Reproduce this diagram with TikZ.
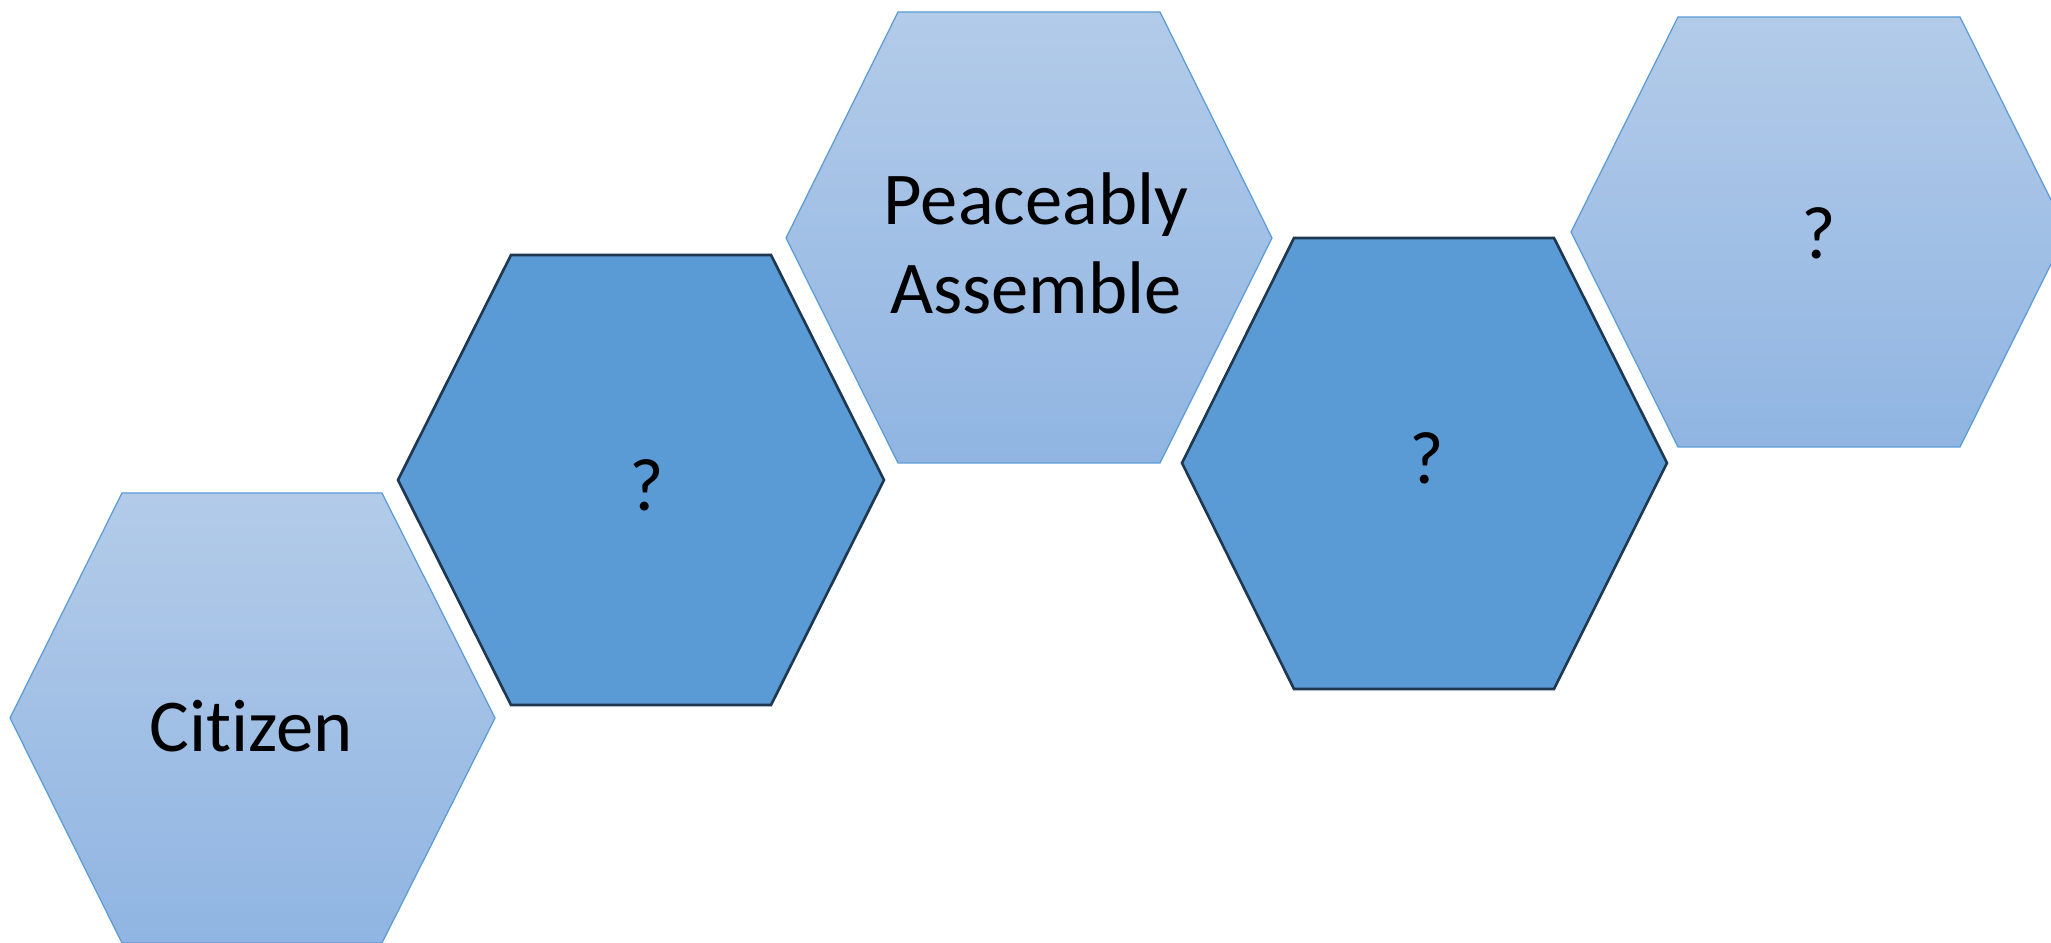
\documentclass[tikz,border=0pt]{standalone}
\usepackage{fontspec}
\setmainfont{Carlito}[Ligatures={NoCommon,NoRequired,NoContextual}]
\definecolor{lighttop}{HTML}{B3CBE9}
\definecolor{lightbot}{HTML}{90B5E2}
\definecolor{lightedge}{HTML}{5B9BD5}
\definecolor{darkfill}{HTML}{5B9BD5}
\definecolor{darkedge}{HTML}{1F3852}
\begin{document}
\begin{tikzpicture}[x=0.01cm,y=-0.01cm,
  lighthex/.style={draw=lightedge,line width=0.35pt,top color=lighttop,bottom color=lightbot,line join=miter},
  darkhex/.style={draw=darkedge,fill=darkfill,line width=0.75pt,line join=miter},
  hextext/.style={inner sep=0pt,anchor=south,font=\fontsize{21.2pt}{25.3pt}\selectfont,align=center,text=black}]
\useasboundingbox (0,0) rectangle (2051,943);
\clip (0,0) rectangle (2051,943);
% hexagons
\path[lighthex] (10,718) -- (122,493) -- (382,493) -- (495,718) -- (382,943) -- (122,943) -- cycle;
\path[darkhex] (398,480) -- (511,255) -- (771,255) -- (884,480) -- (771,705) -- (511,705) -- cycle;
\path[lighthex] (786,238) -- (898,12) -- (1160,12) -- (1272,238) -- (1160,463) -- (898,463) -- cycle;
\path[darkhex] (1182,463) -- (1294,238) -- (1554,238) -- (1667,463) -- (1554,689) -- (1294,689) -- cycle;
\path[lighthex] (1571,232) -- (1678,17) -- (1960,17) -- (2067,232) -- (1960,447) -- (1678,447) -- cycle;
% labels
\node[hextext] (citizen) at (251,753) {Citizen};
\node[hextext] (q1) at (647,512) {?};
\node[hextext] (peace) at (1036,315) {Peaceably\\Assemble};
\node[hextext] (q2) at (1427,485) {?};
\node[hextext] (q3) at (1819,260) {?};
\end{tikzpicture}
\end{document}
